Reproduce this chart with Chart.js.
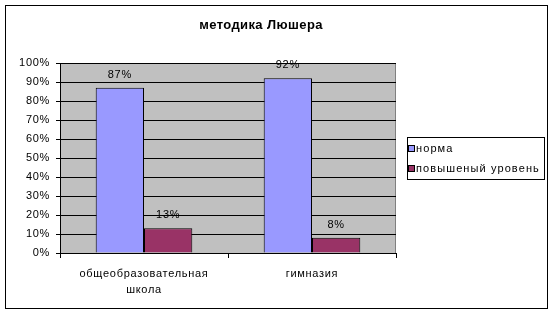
<!DOCTYPE html>
<html>
<head>
<meta charset="utf-8">
<script src="https://cdn.jsdelivr.net/npm/chart.js@4"></script>
<style>
  html, body { margin: 0; padding: 0; background: #fff; }
  #wrap { width: 553px; height: 314px; position: relative; }
</style>
</head>
<body>
<div id="wrap"><canvas id="chartLuscher" width="553" height="314"></canvas></div>
<script>
  // Данные диаграммы
  const categories = [["общеобразовательная", "школа"], "гимназия"];
  const normaValues = [87, 92];
  const highValues = [13, 8];
  const seriesNames = ["норма", "повышеный уровень"];
  const chartTitle = "методика Люшера";

  const FONT = "'Liberation Sans', Arial, sans-serif";

  // фон, рамка, заголовок, подписи и легенда
  const excelLook = {
    id: "excelLook",
    beforeDraw(chart) {
      const { ctx, chartArea: a } = chart;
      ctx.save();
      ctx.fillStyle = "#fff";
      ctx.fillRect(0, 0, chart.width, chart.height);
      ctx.strokeStyle = "#000";
      ctx.lineWidth = 1;
      ctx.strokeRect(5.5, 5.5, 542, 303);
      ctx.fillStyle = "#c0c0c0";
      ctx.fillRect(a.left, a.top, a.right - a.left, a.bottom - a.top);
      ctx.strokeStyle = "#808080";
      ctx.strokeRect(a.left + 0.5, a.top + 0.5, a.right - a.left - 1, a.bottom - a.top);
      ctx.restore();
      // шрифт в Excel выглядит разреженным
      ctx.letterSpacing = "0.7px";
    },
    afterDraw(chart) {
      const { ctx } = chart;
      ctx.save();
      // заголовок
      ctx.fillStyle = "#000";
      ctx.letterSpacing = "0.4px";
      ctx.font = "bold 13px " + FONT;
      ctx.textAlign = "center";
      ctx.textBaseline = "middle";
      ctx.fillText(chartTitle, 261, 25);

      // подписи значений
      ctx.letterSpacing = "0.7px";
      ctx.font = "11px " + FONT;
      chart.data.datasets.forEach((ds, i) => {
        chart.getDatasetMeta(i).data.forEach((bar, j) => {
          ctx.fillText(ds.data[j] + "%", bar.x, bar.y - 13);
        });
      });

      // легенда
      ctx.letterSpacing = "1.1px";
      ctx.strokeStyle = "#000";
      ctx.strokeRect(407.5, 137.5, 137, 42);
      ctx.textAlign = "left";
      chart.data.datasets.forEach((ds, i) => {
        const y = 149 + i * 20;
        ctx.fillStyle = ds.backgroundColor;
        ctx.fillRect(408.5, y - 3.5, 6, 6);
        ctx.strokeRect(408.5, y - 3.5, 6, 6);
        ctx.fillStyle = "#000";
        ctx.fillText(ds.label, 416, y);
      });
      ctx.restore();
    }
  };

  new Chart(document.getElementById("chartLuscher").getContext("2d"), {
    type: "bar",
    data: {
      labels: categories,
      datasets: [
        {
          label: seriesNames[0],
          data: normaValues,
          backgroundColor: "#9999ff",
          borderColor: "#000",
          borderWidth: 1,
          borderSkipped: "bottom",
        },
        {
          label: seriesNames[1],
          data: highValues,
          backgroundColor: "#993366",
          borderColor: "#000",
          borderWidth: 1,
          borderSkipped: "bottom",
        },
      ],
    },
    options: {
      responsive: false,
      animation: false,
      events: [],
      layout: { padding: { left: 0, top: 63, right: 157, bottom: 0 } },
      categoryPercentage: 0.575,
      barPercentage: 1.0,
      plugins: {
        legend: { display: false },
        title: { display: false },
        tooltip: { enabled: false },
      },
      scales: {
        x: {
          afterFit(s) { s.height = 61; },
          grid: {
            offset: true,
            drawOnChartArea: false,
            color: "#000",
            tickLength: 5,
          },
          border: { color: "#000" },
          ticks: {
            color: "#000",
            padding: 8,
            font: { family: FONT, size: 11, lineHeight: 1.45 },
          },
        },
        y: {
          min: 0,
          max: 100,
          afterFit(s) { s.width = 60; },
          grid: { color: "#000", tickLength: 4 },
          border: { color: "#000" },
          ticks: {
            stepSize: 10,
            color: "#000",
            padding: 6,
            font: { family: FONT, size: 11 },
            callback: (v) => v + "%",
          },
        },
      },
    },
    plugins: [excelLook],
  });
</script>
</body>
</html>
